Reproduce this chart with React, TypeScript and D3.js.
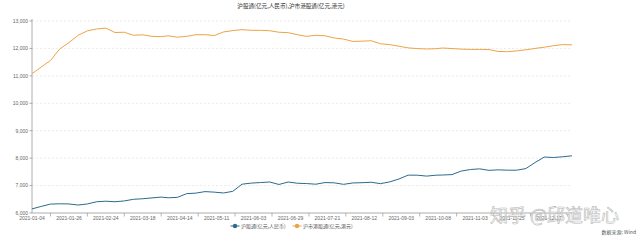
import React from "react";
import * as d3 from "d3";

const TITLE = "沪股通(亿元,人民币),沪市港股通(亿元,港元)";
const SERIES_NAMES = ["沪股通(亿元,人民币)", "沪市港股通(亿元,港元)"];
const TOTAL_DAYS = 235;
const TICK_EVERY = 16;
const tickLabels = [
  "2021-01-04", "2021-01-26", "2021-02-24", "2021-03-18", "2021-04-14",
  "2021-05-11", "2021-06-03", "2021-06-29", "2021-07-21", "2021-08-12",
  "2021-09-03", "2021-10-08", "2021-11-03", "2021-11-25", "2021-12-17",
];
const yTicks = [6000, 7000, 8000, 9000, 10000, 11000, 12000, 13000];

// 沪股通 sampled roughly every 4 trading days
const northValues = [
  6150, 6240, 6325, 6335, 6330, 6290, 6330, 6410, 6430, 6410,
  6440, 6500, 6520, 6550, 6580, 6555, 6570, 6705, 6725, 6780,
  6760, 6730, 6790, 7050, 7090, 7110, 7130, 7040, 7130, 7085,
  7073, 7050, 7110, 7100, 7045, 7095, 7105, 7120, 7070, 7134,
  7240, 7380, 7378, 7345, 7378, 7385, 7400, 7530, 7585, 7610,
  7555, 7573, 7561, 7560, 7620, 7840, 8040, 8024, 8050, 8085,
];
// 沪市港股通
const southValues = [
  11080, 11320, 11560, 11980, 12210, 12480, 12640, 12710, 12740, 12580,
  12590, 12480, 12495, 12440, 12430, 12460, 12410, 12440, 12500, 12500,
  12470, 12600, 12650, 12685, 12660, 12660, 12645, 12590, 12575, 12500,
  12440, 12480, 12460, 12380, 12340, 12255, 12265, 12280, 12170, 12140,
  12080, 12020, 11995, 11980, 11990, 12015, 11995, 11975, 11965, 11965,
  11960, 11890, 11880, 11910, 11950, 12000, 12045, 12100, 12140, 12130,
];

const COLORS = ["#2c6b8c", "#eca447"];
const FONT = "'Liberation Sans', 'Noto Sans CJK SC', sans-serif";
const CJK = "'Noto Sans CJK SC', sans-serif";

export default function App() {
  const W = 640, H = 242;
  const x = d3.scaleLinear().domain([0, TOTAL_DAYS - 1]).range([32, 572]);
  const y = d3.scaleLinear().domain([6000, 13000]).range([213, 21]);
  const dayOf = (i: number, n: number) => Math.round((i * (TOTAL_DAYS - 1)) / (n - 1));
  const line = d3
    .line<number>()
    .x((_, i, arr) => x(dayOf(i, (arr as number[]).length)))
    .y((d) => y(d))
    .curve(d3.curveLinear);
  const fmt = d3.format(",");
  const midTicks = tickLabels.map((_, i) => i * TICK_EVERY + TICK_EVERY / 2).filter((d) => d < TOTAL_DAYS - 1);

  return (
    <div style={{ position: "fixed", left: 0, top: 0 }}>
      <svg width={W} height={H} style={{ display: "block", background: "#fff" }}>
        <text x={291} y={8} textAnchor="middle" fontSize={5.6} fill="#333" fontFamily={CJK}>
          {TITLE}
        </text>
        {yTicks.map((t) => (
          <g key={t}>
            {t > 6000 && (
              <line x1={32} x2={572} y1={y(t)} y2={y(t)} stroke="#e3e3e3" strokeWidth={0.7} strokeDasharray="2,2" />
            )}
            <line x1={29.5} x2={32} y1={y(t)} y2={y(t)} stroke="#888" strokeWidth={0.7} />
            <text x={28} y={y(t) + 1.8} textAnchor="end" fontSize={5} fill="#666" fontFamily={FONT}>
              {fmt(t)}
            </text>
          </g>
        ))}
        <line x1={32} x2={32} y1={19} y2={213} stroke="#999" strokeWidth={0.8} />
        <line x1={32} x2={572} y1={213} y2={213} stroke="#999" strokeWidth={0.8} />
        {midTicks.map((d) => (
          <line key={d} x1={x(d)} x2={x(d)} y1={213} y2={216.5} stroke="#999" strokeWidth={0.7} />
        ))}
        {tickLabels.map((lab, i) => (
          <text key={lab} x={x(i * TICK_EVERY)} y={220} textAnchor="middle" fontSize={5} fill="#666" fontFamily={FONT}>
            {lab}
          </text>
        ))}
        <path d={line(southValues) || ""} fill="none" stroke={COLORS[1]} strokeWidth={1} />
        <path d={line(northValues) || ""} fill="none" stroke={COLORS[0]} strokeWidth={1} />
        {SERIES_NAMES.map((name, i) => {
          const cx = i === 0 ? 235 : 297;
          return (
            <g key={name}>
              <line x1={cx - 4.5} x2={cx + 4.5} y1={226} y2={226} stroke={COLORS[i]} strokeWidth={1} />
              <circle cx={cx} cy={226} r={2.2} fill={COLORS[i]} />
              <text x={cx + 6} y={227.8} fontSize={5} fill="#555" fontFamily={CJK}>
                {name}
              </text>
            </g>
          );
        })}
        <text x={636} y={234} textAnchor="end" fontSize={5} fill="#555" fontFamily={CJK}>
          数据来源: Wind
        </text>
        <text x={490} y={222} fontSize={18} fill="#ffffff" fillOpacity={0.6} stroke="#b8b8b8" strokeWidth={0.6} fontFamily={CJK}>
          知乎 @邱道唯心
        </text>
      </svg>
    </div>
  );
}
